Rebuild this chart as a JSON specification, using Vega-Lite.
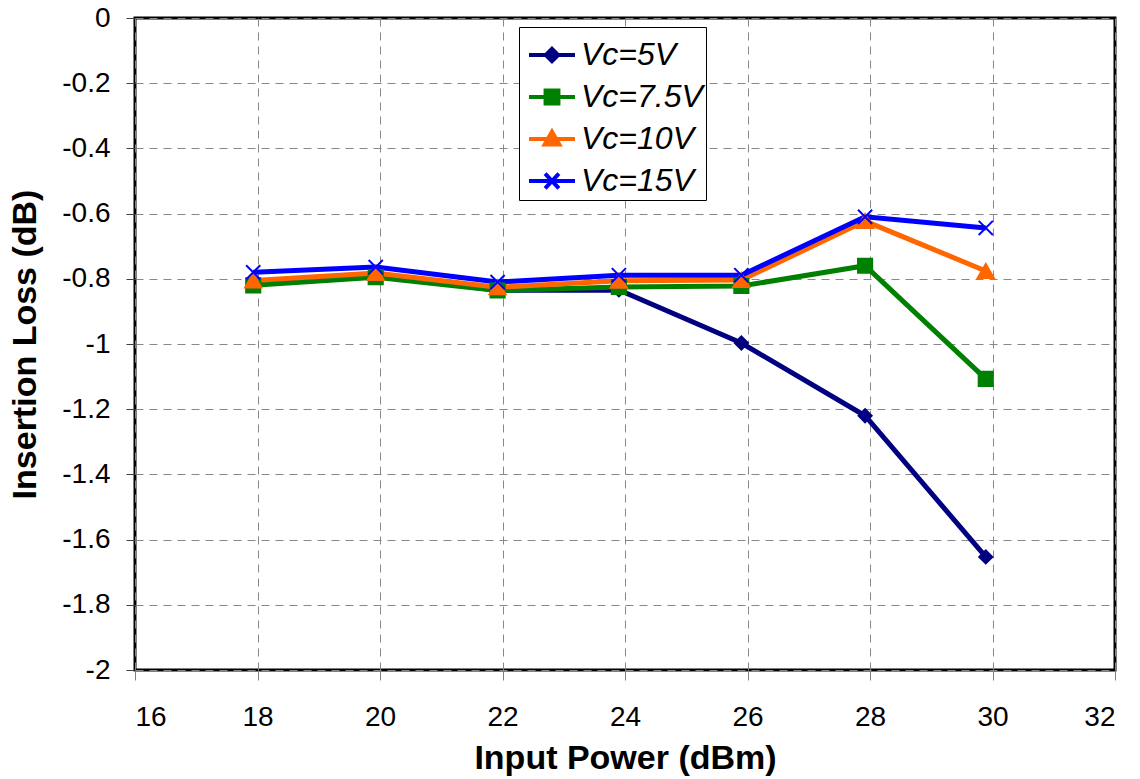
{
  "$schema": "https://vega.github.io/schema/vega-lite/v6.json",
  "width": 980,
  "height": 652,
  "autosize": "none",
  "padding": {"left": 135, "top": 18, "right": 25, "bottom": 109},
  "background": "white",
  "config": {
    "view": {"stroke": "black", "strokeWidth": 3},
    "font": "Liberation Sans"
  },
  "data": {
    "values": [
      {"p": 17.93, "il": -0.81, "s": "Vc=5V"},
      {"p": 19.93, "il": -0.79, "s": "Vc=5V"},
      {"p": 21.92, "il": -0.835, "s": "Vc=5V"},
      {"p": 23.9, "il": -0.834, "s": "Vc=5V"},
      {"p": 25.9, "il": -0.997, "s": "Vc=5V"},
      {"p": 27.92, "il": -1.22, "s": "Vc=5V"},
      {"p": 29.89, "il": -1.653, "s": "Vc=5V"},
      {"p": 17.93, "il": -0.82, "s": "Vc=7.5V"},
      {"p": 19.93, "il": -0.795, "s": "Vc=7.5V"},
      {"p": 21.92, "il": -0.836, "s": "Vc=7.5V"},
      {"p": 23.9, "il": -0.825, "s": "Vc=7.5V"},
      {"p": 25.9, "il": -0.822, "s": "Vc=7.5V"},
      {"p": 27.92, "il": -0.76, "s": "Vc=7.5V"},
      {"p": 29.89, "il": -1.107, "s": "Vc=7.5V"},
      {"p": 17.93, "il": -0.805, "s": "Vc=10V"},
      {"p": 19.93, "il": -0.782, "s": "Vc=10V"},
      {"p": 21.92, "il": -0.826, "s": "Vc=10V"},
      {"p": 23.9, "il": -0.806, "s": "Vc=10V"},
      {"p": 25.9, "il": -0.804, "s": "Vc=10V"},
      {"p": 27.92, "il": -0.623, "s": "Vc=10V"},
      {"p": 29.89, "il": -0.776, "s": "Vc=10V"},
      {"p": 17.93, "il": -0.78, "s": "Vc=15V"},
      {"p": 19.93, "il": -0.764, "s": "Vc=15V"},
      {"p": 21.92, "il": -0.81, "s": "Vc=15V"},
      {"p": 23.9, "il": -0.789, "s": "Vc=15V"},
      {"p": 25.9, "il": -0.789, "s": "Vc=15V"},
      {"p": 27.92, "il": -0.61, "s": "Vc=15V"},
      {"p": 29.89, "il": -0.644, "s": "Vc=15V"}
    ]
  },
  "encoding": {
    "x": {
      "field": "p",
      "type": "quantitative",
      "scale": {"domain": [16, 32], "nice": false, "zero": false},
      "axis": {
        "values": [16, 18, 20, 22, 24, 26, 28, 30, 32],
        "title": "Input Power (dBm)",
        "titleFontSize": 34,
        "titleFontWeight": "bold",
        "titleColor": "black",
        "titlePadding": 10,
        "labelFontSize": 28,
        "labelColor": "black",
        "labelPadding": 23,
        "tickColor": "#808080",
        "tickSize": 10,
        "domain": false,
        "grid": true,
        "gridColor": "#888888",
        "gridDash": [8, 6],
        "gridWidth": 1
      }
    },
    "y": {
      "field": "il",
      "type": "quantitative",
      "scale": {"domain": [-2, 0], "nice": false, "zero": false},
      "axis": {
        "values": [-2, -1.8, -1.6, -1.4, -1.2, -1, -0.8, -0.6, -0.4, -0.2, 0],
        "labelExpr": "replace(format(datum.value, '~g'), '\u2212', '-')",
        "title": "Insertion Loss (dB)",
        "titleFontSize": 34,
        "titleFontWeight": "bold",
        "titleColor": "black",
        "titlePadding": 19,
        "labelFontSize": 28,
        "labelColor": "black",
        "labelPadding": 16,
        "tickColor": "#404040",
        "tickSize": 9,
        "domain": false,
        "grid": true,
        "gridColor": "#888888",
        "gridDash": [8, 6],
        "gridWidth": 1
      }
    }
  },
  "layer": [
    {
      "mark": {"type": "line", "strokeWidth": 5},
      "encoding": {
        "color": {
          "field": "s",
          "type": "nominal",
          "scale": {
            "domain": ["Vc=5V", "Vc=7.5V", "Vc=10V", "Vc=15V"],
            "range": ["#000080", "#008000", "#FF6600", "#0000FF"]
          },
          "legend": {
            "orient": "none",
            "legendX": 384,
            "legendY": 9,
            "title": null,
            "labelFont": "Liberation Sans",
            "labelFontSize": 32,
            "labelFontStyle": "italic",
            "labelColor": "black",
            "labelLimit": 400,
            "symbolSize": 2116,
            "symbolStrokeWidth": 4,
            "symbolOffset": 5,
            "labelOffset": 4,
            "rowPadding": 1,
            "padding": 3,
            "strokeColor": "black",
            "fillColor": "white",
            "encode": {
              "symbols": {
                "update": {
                  "shape": {"signal": "datum.value === 'Vc=5V' ? 'M-1,0L1,0M0,-0.27L0.27,0L0,0.27L-0.27,0Z' : datum.value === 'Vc=7.5V' ? 'M-1,0L1,0M-0.28,-0.28L0.28,-0.28L0.28,0.28L-0.28,0.28Z' : datum.value === 'Vc=10V' ? 'M-1,0L1,0M0,-0.32L0.32,0.24L-0.32,0.24Z' : 'M-1,0L1,0M-0.3,-0.32L0.3,0.32M0.3,-0.32L-0.3,0.32'"},
                  "fill": {"signal": "scale('color', datum.value)"},
                  "stroke": {"signal": "scale('color', datum.value)"},
                  "strokeWidth": {"value": 4},
                  "opacity": {"value": 1}
                }
              }
            }
          }
        }
      }
    },
    {
      "transform": [{"filter": "datum.s === 'Vc=5V'"}],
      "mark": {"type": "point", "shape": "diamond", "filled": true, "color": "#000080", "stroke": "#000080", "strokeWidth": 2, "size": 170, "opacity": 1}
    },
    {
      "transform": [{"filter": "datum.s === 'Vc=7.5V'"}],
      "mark": {"type": "point", "shape": "square", "filled": true, "color": "#008000", "stroke": "#008000", "strokeWidth": 2, "size": 200, "opacity": 1}
    },
    {
      "transform": [{"filter": "datum.s === 'Vc=10V'"}],
      "mark": {"type": "point", "shape": "triangle-up", "filled": true, "color": "#FF6600", "stroke": "#FF6600", "strokeWidth": 2, "size": 260, "opacity": 1}
    },
    {
      "transform": [{"filter": "datum.s === 'Vc=15V'"}],
      "mark": {"type": "point", "shape": "M-1,-1L1,1M1,-1L-1,1", "filled": false, "color": "#0000FF", "stroke": "#0000FF", "strokeWidth": 2, "size": 200, "opacity": 1}
    }
  ]
}
